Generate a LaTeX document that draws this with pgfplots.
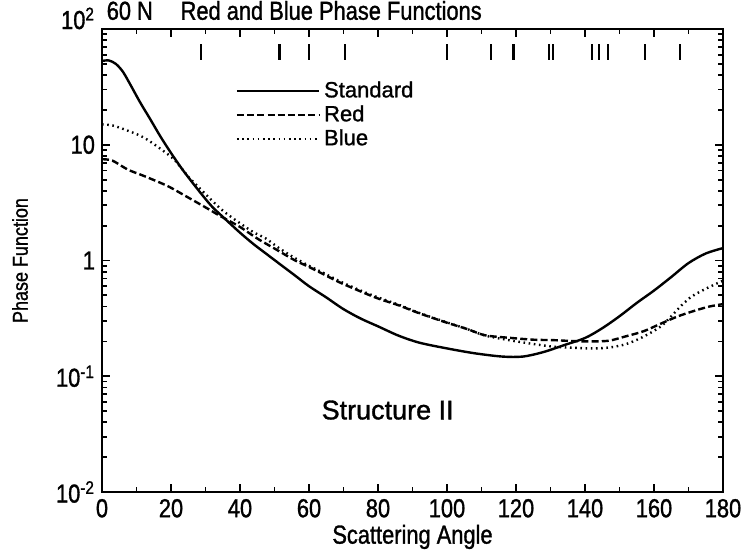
\documentclass[border=0pt]{standalone}
\usepackage{fontspec}
\setmainfont{Liberation Sans}[FakeStretch=0.84, FakeBold=1.2]
\newfontfamily\legfont{Liberation Sans}[FakeBold=1.2]
\usepackage{pgfplots}
\pgfplotsset{compat=1.18}

% phase functions (angle in degrees, value)
\pgfplotstableread{
x y
0 53
2 53.5
4 50
6 43
8 34
11 23.4
14 16.6
17 11.7
20 8.5
23 6.3
26 4.8
29 3.7
32 2.9
36 2.24
40 1.74
44 1.38
48 1.12
52 0.91
56 0.74
60 0.60
65 0.48
70 0.38
75 0.315
80 0.27
86 0.224
92 0.195
100 0.174
108 0.158
116 0.148
122 0.148
128 0.162
134 0.186
140 0.214
145 0.26
150 0.33
155 0.43
160 0.55
165 0.72
170 0.95
175 1.15
180 1.28
}\standard

\pgfplotstableread{
x y
0 7.5
3 7.3
7.5 6.1
12 5.4
19 4.4
25 3.5
30.7 2.8
34 2.45
40 1.95
45 1.55
51 1.22
56 1.0
60 0.88
65 0.74
69 0.645
75 0.54
80 0.47
86 0.41
92 0.35
100 0.29
106 0.255
111 0.226
118 0.215
125 0.207
131 0.205
137 0.201
142 0.200
147 0.203
152 0.222
157 0.245
162 0.285
167 0.33
172 0.37
176 0.40
180 0.42
}\red

\pgfplotstableread{
x y
0 15
3 14.7
7 13.4
12 11.6
17 9.2
21 7.4
25 5.3
28 4.3
31 3.5
35 2.7
40 2.1
44 1.75
47.5 1.55
51 1.3
55 1.09
60 0.9
65 0.76
69 0.66
75 0.55
80 0.48
86 0.415
92 0.352
100 0.292
106 0.255
111 0.225
118 0.205
125 0.19
131 0.18
137 0.176
142 0.174
147 0.177
152 0.19
157 0.22
162 0.27
165 0.33
168 0.41
171 0.49
175 0.57
180 0.67
}\blue

\begin{document}
\begin{tikzpicture}[font=\fontsize{13}{15}\selectfont]
\useasboundingbox (-51pt,-30.5pt) rectangle (319.5pt,246pt);
\begin{axis}[
  at={(0pt,0pt)}, anchor=south west,
  scale only axis, width=310.5pt, height=231.5pt,
  clip=false,
  ymode=log, xmin=0, xmax=180, ymin=0.01, ymax=100,
  xtick={0,20,...,180}, minor xtick={10,30,...,170},
  ytick={0.01,0.1,1,10,100},
  yticklabels={10\textsuperscript{-2},10\textsuperscript{-1},1,10,\raisebox{0pt}[0pt][0pt]{10\textsuperscript{2}}},
  minor ytick={0.02,0.03,0.04,0.05,0.06,0.07,0.08,0.09,0.2,0.3,0.4,0.5,0.6,0.7,0.8,0.9,2,3,4,5,6,7,8,9,20,30,40,50,60,70,80,90},
  /pgf/number format/assume math mode=true,
  tick align=inside, major tick length=4pt, minor tick length=2.5pt,
  every tick/.style={black, line width=0.9pt},
  axis line style={line width=1pt},
  xlabel={Scattering Angle}, ylabel={Phase Function},
  xlabel style={at={(axis description cs:0.5,-0.097)}, anchor=center},
  ylabel style={at={(axis description cs:-0.132,0.5)}, anchor=center,
    font=\fontsize{10.7}{13}\selectfont},
  legend style={at={(axis description cs:0.205,0.905)}, anchor=north west,
    draw=none, fill=none, font=\legfont\fontsize{11}{12}\selectfont,
    row sep=-1.5pt, cells={anchor=west}},
  legend image code/.code={\draw[#1] (0pt,0pt) -- (41pt,0pt);},
]
\addplot[black, line width=1.2pt, smooth] table {\standard};
\addlegendentry{Standard}
\addplot[black, line width=1.2pt, dash pattern=on 3.5pt off 1.6pt, smooth] table {\red};
\addlegendentry{Red}
\addplot[black, line width=1.2pt, dash pattern=on 0.8pt off 1.8pt, smooth] table {\blue};
\addlegendentry{Blue}
\addplot[black, only marks, mark=|, mark size=4pt, mark options={line width=1.2pt}, forget plot]
  coordinates {(28.7,63)(51.5,63)(60,63)(70.5,63)(100,63)(112.7,63)(119.3,63)
  (129.5,63)(130.7,63)(142,63)(144,63)(146.7,63)(157.4,63)(167.6,63)};
\node[anchor=base west, inner sep=0pt] at (axis description cs:0.007,1.02) {60 N};
\node[anchor=base west, inner sep=0pt] at (axis description cs:0.126,1.02) {Red and Blue Phase Functions};
\node[font=\legfont\fontsize{13.5}{15}\selectfont] at (axis description cs:0.46,0.177) {Structure II};
\end{axis}
\end{tikzpicture}
\end{document}
